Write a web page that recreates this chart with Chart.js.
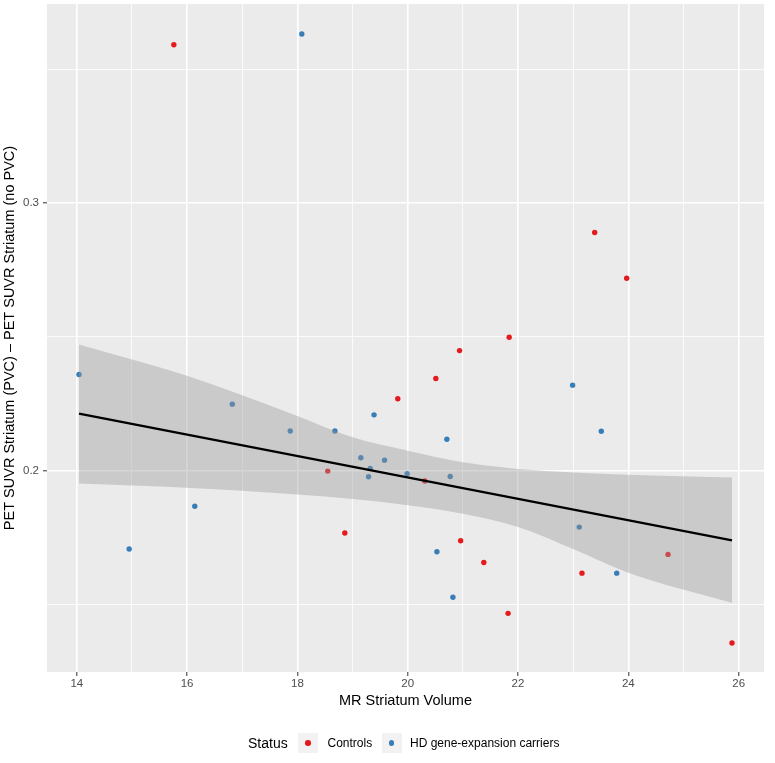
<!DOCTYPE html>
<html>
<head>
<meta charset="utf-8">
<script src="https://cdn.jsdelivr.net/npm/chart.js@4.4.1/dist/chart.umd.min.js"></script>
<style>
  html, body { margin: 0; padding: 0; background: #fff; }
  #wrap { position: relative; width: 775px; height: 763px; }
  .lg { position: absolute; top: 743px; transform: translateY(-50%); font-family: "Liberation Sans", Arial, sans-serif; white-space: nowrap; line-height: 1; color: #000; }
  .key { position: absolute; top: 733px; width: 20px; height: 20px; background: #F2F2F2; }
  .key span { position: absolute; left: 7.3px; top: 7.3px; width: 5.4px; height: 5.4px; border-radius: 50%; }
</style>
</head>
<body>
<div id="wrap">
  <canvas id="chart"></canvas>
  <div class="lg" style="left:248px; font-size:14px;">Status</div>
  <div class="key" style="left:298px;"><span style="background:#E41A1C;"></span></div>
  <div class="lg" style="left:327.5px; font-size:12px;">Controls</div>
  <div class="key" style="left:381.5px;"><span style="background:#377EB8;"></span></div>
  <div class="lg" style="left:410px; font-size:12px;">HD gene-expansion carriers</div>
</div>
<script>
// Controls (red)
const controlsX = [15.76, 23.39, 23.97, 21.84, 20.94, 20.51, 19.82, 18.55, 20.31, 18.86, 20.96, 21.38, 24.72, 23.16, 21.82, 25.88];
const controlsY = [0.3591, 0.2890, 0.2719, 0.2499, 0.2449, 0.2345, 0.2269, 0.1999, 0.1962, 0.1768, 0.1739, 0.1658, 0.1688, 0.1618, 0.1468, 0.1357];

// HD gene-expansion carriers (blue)
const carriersX = [18.08, 14.04, 22.99, 16.82, 19.39, 17.87, 18.68, 23.51, 20.71, 19.15, 19.58, 19.32, 19.29, 19.99, 20.77, 16.14, 23.11, 14.95, 20.53, 23.79, 20.82];
const carriersY = [0.3631, 0.2360, 0.2320, 0.2249, 0.2209, 0.2149, 0.2149, 0.2148, 0.2118, 0.2049, 0.2040, 0.2009, 0.1978, 0.1989, 0.1979, 0.1868, 0.1790, 0.1708, 0.1698, 0.1618, 0.1528];

// fitted line and its confidence band
const fitX = [14.04, 25.88];
const fitY = [0.2214, 0.1740];
const bandX = [14.04, 16, 18, 19, 20, 21, 22, 23, 24, 25.88];
const bandUpper = [0.2472, 0.2355, 0.2205, 0.2125, 0.2075, 0.2032, 0.2007, 0.1994, 0.1985, 0.1975];
const bandLower = [0.1953, 0.1937, 0.1912, 0.1895, 0.1872, 0.1840, 0.1790, 0.1708, 0.1620, 0.1507];

// axes
const xTicks = [14, 15, 16, 17, 18, 19, 20, 21, 22, 23, 24, 25, 26];
const xMajor = [14, 16, 18, 20, 22, 24, 26];
const yTicks = [0.15, 0.2, 0.25, 0.3, 0.35];
const yMajor = [0.2, 0.3];

const isMajor = (list, v) => list.some(m => Math.abs(m - v) < 1e-9);
const pts = (xs, ys) => xs.map((x, i) => ({ x: x, y: ys[i] }));

const panelBg = {
  id: 'panelBg',
  beforeDraw(chart) {
    const { ctx, chartArea: a } = chart;
    ctx.save();
    ctx.fillStyle = '#EBEBEB';
    ctx.fillRect(a.left, a.top, a.right - a.left, a.bottom - a.top);
    ctx.restore();
  }
};

const noPad = scale => {
  scale.paddingTop = 0;
  scale.paddingBottom = 0;
  scale.paddingLeft = 0;
  scale.paddingRight = 0;
};

const font = '"Liberation Sans", Arial, sans-serif';

new Chart(document.getElementById('chart'), {
  type: 'scatter',
  data: {
    datasets: [
      {
        label: 'fit',
        data: pts(fitX, fitY),
        showLine: true,
        borderColor: '#000000',
        borderWidth: 2.3,
        pointRadius: 0,
        order: -1
      },
      {
        label: 'upper',
        data: pts(bandX, bandUpper),
        showLine: true,
        cubicInterpolationMode: 'monotone',
        borderColor: 'transparent',
        borderWidth: 0,
        pointRadius: 0,
        fill: '+1',
        backgroundColor: 'rgba(153,153,153,0.4)',
        order: 0
      },
      {
        label: 'lower',
        data: pts(bandX, bandLower),
        showLine: true,
        cubicInterpolationMode: 'monotone',
        borderColor: 'transparent',
        borderWidth: 0,
        pointRadius: 0,
        fill: false,
        order: 0
      },
      {
        label: 'Controls',
        data: pts(controlsX, controlsY),
        backgroundColor: '#E41A1C',
        borderWidth: 0,
        pointRadius: 2.7,
        order: 1
      },
      {
        label: 'HD gene-expansion carriers',
        data: pts(carriersX, carriersY),
        backgroundColor: '#377EB8',
        borderWidth: 0,
        pointRadius: 2.7,
        order: 1
      }
    ]
  },
  options: {
    responsive: true,
    maintainAspectRatio: false,
    animation: false,
    layout: { padding: { left: 0, right: 11, top: 3.5, bottom: 0 } },
    plugins: {
      legend: { display: false },
      tooltip: { enabled: false }
    },
    scales: {
      x: {
        type: 'linear',
        min: 13.46,
        max: 26.46,
        afterBuildTicks: scale => { scale.ticks = xTicks.map(v => ({ value: v })); },
        afterFit: scale => { scale.height = 91; noPad(scale); },
        border: { display: false },
        grid: {
          color: '#FFFFFF',
          lineWidth: ctx => isMajor(xMajor, ctx.tick.value) ? 1.6 : 0.8,
          tickLength: 4,
          tickWidth: 1,
          tickColor: ctx => isMajor(xMajor, ctx.tick.value) ? '#333333' : 'transparent'
        },
        ticks: {
          autoSkip: false,
          maxRotation: 0,
          padding: 1,
          color: '#4D4D4D',
          font: { family: font, size: 11.5 },
          callback: v => isMajor(xMajor, v) ? String(v) : ''
        },
        title: {
          display: true,
          text: 'MR Striatum Volume',
          color: '#000000',
          font: { family: font, size: 14.5 },
          padding: { top: 0, bottom: 53.6 }
        }
      },
      y: {
        type: 'linear',
        min: 0.1249,
        max: 0.3743,
        afterBuildTicks: scale => { scale.ticks = yTicks.map(v => ({ value: v })); },
        afterFit: scale => { scale.width = 47; noPad(scale); },
        border: { display: false },
        grid: {
          color: '#FFFFFF',
          lineWidth: ctx => isMajor(yMajor, ctx.tick.value) ? 1.6 : 0.8,
          tickLength: 4,
          tickWidth: 1,
          tickColor: ctx => isMajor(yMajor, ctx.tick.value) ? '#333333' : 'transparent'
        },
        ticks: {
          autoSkip: false,
          padding: 4,
          color: '#4D4D4D',
          font: { family: font, size: 11.5 },
          callback: v => isMajor(yMajor, v) ? v.toFixed(1) : ''
        },
        title: {
          display: true,
          text: 'PET SUVR Striatum (PVC) – PET SUVR Striatum (no PVC)',
          color: '#000000',
          font: { family: font, size: 14.5 },
          padding: { top: 1.3, bottom: 0 }
        }
      }
    }
  },
  plugins: [panelBg]
});
</script>
</body>
</html>
